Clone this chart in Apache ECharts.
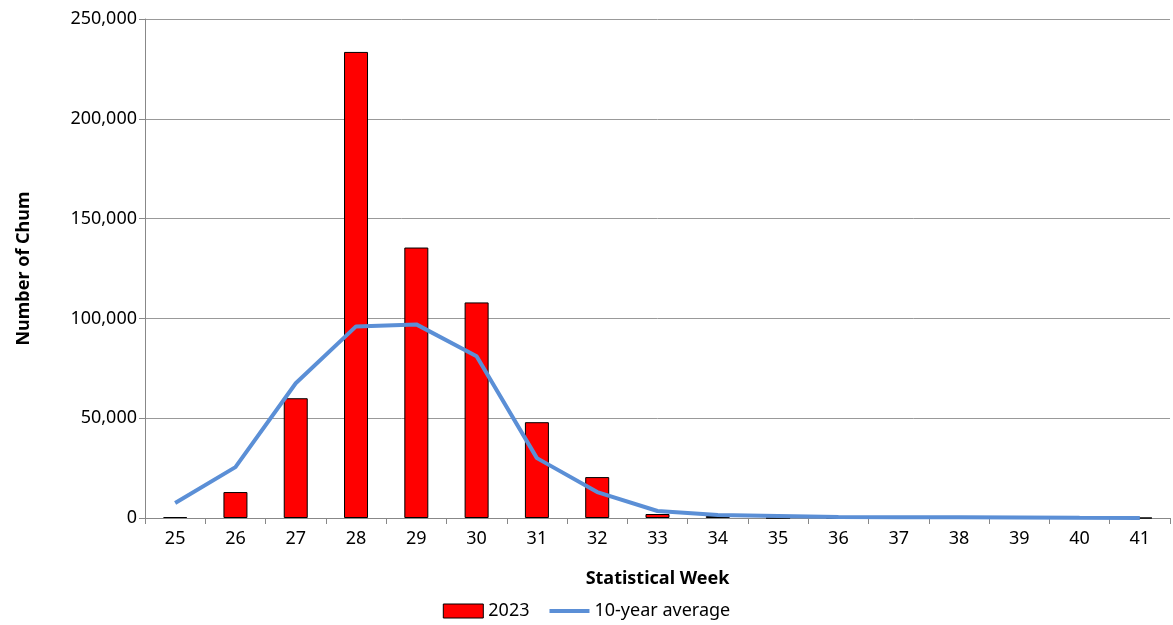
<!DOCTYPE html>
<html><head><meta charset="utf-8">
<script src="https://cdn.jsdelivr.net/npm/echarts@6/dist/echarts.min.js"></script>
<style>html,body{margin:0;padding:0;background:#fff}#c{width:1173px;height:625px}</style>
</head><body><div id="c"></div>
<script>
const weeks = ['25','26','27','28','29','30','31','32','33','34','35','36','37','38','39','40','41'];
const values2023 = [500,13000,60000,233500,135500,108000,48000,20500,2000,1000,0,0,0,0,0,0,0];
const tenYearAvg = [7500,25500,67500,96000,97000,81000,30000,13000,3500,1500,1000,500,400,400,300,100,0];
const F = 'Noto Sans';
const chart = echarts.init(document.getElementById('c'));
chart.setOption({
  animation:false,
  textStyle:{fontFamily:F},
  grid:{left:145,right:3,top:19,bottom:107},
  legend:{bottom:0,left:'center',itemGap:20,itemWidth:40,itemHeight:14,textStyle:{fontSize:18,color:'#000',fontFamily:F},
    data:[{name:'2023',icon:'rect',itemStyle:{color:'#ff0000',borderColor:'#000',borderWidth:1}},
          {name:'10-year average',icon:'path://M0,0H40V4H0Z',itemStyle:{color:'#5b8fd6'}}]},
  xAxis:{type:'category',data:weeks,name:'Statistical Week',nameLocation:'middle',nameGap:52,
    nameTextStyle:{fontSize:18,fontWeight:'bold',color:'#000'},
    axisLine:{lineStyle:{color:'#888'}},axisTick:{show:true,length:6,lineStyle:{color:'#888'}},
    axisLabel:{fontSize:18,color:'#000',margin:12}},
  yAxis:{type:'value',min:0,max:250000,interval:50000,name:'Number of Chum',nameLocation:'middle',nameGap:112,
    nameTextStyle:{fontSize:18,fontWeight:'bold',color:'#000'},
    axisLine:{show:true,lineStyle:{color:'#888'}},axisTick:{show:true,length:6,lineStyle:{color:'#888'}},
    splitLine:{lineStyle:{color:'#999'}},
    axisLabel:{fontSize:18,color:'#000',formatter:v=>v.toLocaleString('en-US')}},
  series:[
    {name:'2023',type:'bar',data:values2023,barWidth:24,itemStyle:{color:'#ff0000',borderColor:'#000',borderWidth:1}},
    {name:'10-year average',type:'line',data:tenYearAvg,symbol:'none',lineStyle:{color:'#5b8fd6',width:4},itemStyle:{color:'#5b8fd6'}}
  ]
});
</script></body></html>
